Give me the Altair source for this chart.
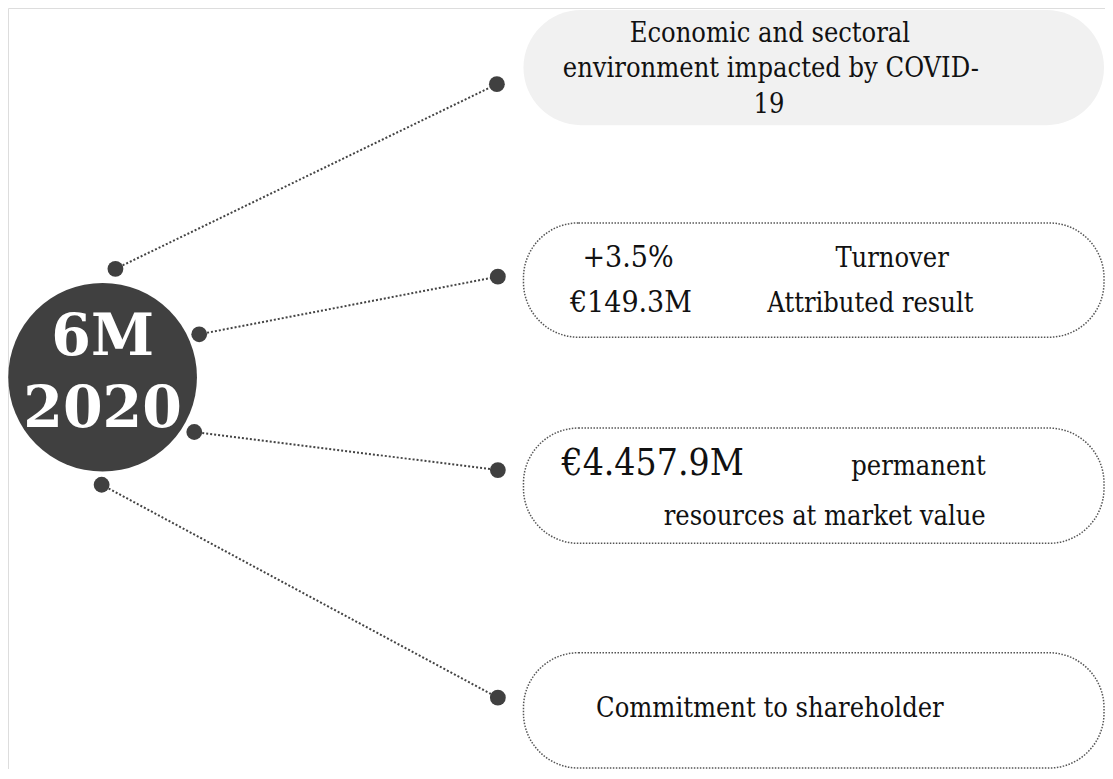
import altair as alt
import pandas as pd

# ---- content ----
center_lines = ["6M", "2020"]
box_texts = [
    "Economic and sectoral",
    "environment impacted by COVID-",
    "19",
    "Turnover",
    "Attributed result",
    "permanent",
    "resources at market value",
    "Commitment to shareholder",
]
value_texts = ["+3.5%", "€149.3M", "€4.457.9M"]

# ---- layout (reference pixel space, mapped into the plot area) ----
W, H = 1097, 761
xs = alt.Scale(domain=[0, 1113], range=[0, W], nice=False, zero=False)
ys = alt.Scale(domain=[0, 779], range=[0, H], nice=False, zero=False)

boxes = pd.DataFrame({
    "x": [523, 523, 523, 523], "x2": [1112, 1112, 1112, 1112],
    "y": [2, 220, 430, 660], "y2": [120, 337, 548, 778],
    "kind": ["fill", "dot", "dot", "dot"],
})
links = pd.DataFrame({
    "x": [109, 194, 189, 95], "y": [267, 334, 434, 488],
    "x2": [496, 497, 497, 497], "y2": [78, 275, 473, 706],
})
dots = pd.DataFrame({
    "x": [109, 194, 189, 95, 496, 497, 497, 497],
    "y": [267, 334, 434, 488, 78, 275, 473, 706],
})
hub = pd.DataFrame({"x": [96], "y": [378]})
hub_text = pd.DataFrame({"t": center_lines, "x": [96, 96], "y": [338, 412]})
body = pd.DataFrame({
    "t": box_texts,
    "x": [773, 774, 772, 897, 875, 992, 992, 773],
    "y": [27, 62, 99, 257, 303, 470, 521, 718],
    "al": ["center", "center", "center", "center", "center", "right", "right", "center"],
})
vals = pd.DataFrame({
    "t": value_texts, "x": [629, 632, 654], "y": [256, 302, 467],
    "s": [30, 30, 37],
})

def X(f="x"):
    return alt.X(f"{f}:Q", scale=xs, axis=None)

def Y(f="y"):
    return alt.Y(f"{f}:Q", scale=ys, axis=None)

box_fill = alt.Chart(boxes[boxes["kind"] == "fill"]).mark_rect(
    cornerRadius=58, fill="#f1f1f1"
).encode(x=X(), x2="x2:Q", y=Y(), y2="y2:Q")
box_dot = alt.Chart(boxes[boxes["kind"] == "dot"]).mark_rect(
    cornerRadius=55, fill="white", stroke="#555555", strokeWidth=1.5, strokeDash=[1.5, 1.5]
).encode(x=X(), x2="x2:Q", y=Y(), y2="y2:Q")
link = alt.Chart(links).mark_rule(
    stroke="#444444", strokeWidth=2, strokeDash=[2, 2]
).encode(x=X(), x2="x2:Q", y=Y(), y2="y2:Q")
dot = alt.Chart(dots).mark_circle(size=250, color="#404040", opacity=1).encode(x=X(), y=Y())
hubc = alt.Chart(hub).mark_circle(size=35600, color="#404040", opacity=1).encode(x=X(), y=Y())
hubt = alt.Chart(hub_text).mark_text(
    font="DejaVu Serif", fontWeight="bold", fontSize=57, color="white", baseline="middle"
).encode(x=X(), y=Y(), text="t:N")

body_c = alt.Chart(body[body["al"] == "center"]).mark_text(
    font="DejaVu Serif Condensed", fontSize=27, color="#111111", baseline="middle", align="center"
).encode(x=X(), y=Y(), text="t:N")
body_r = alt.Chart(body[body["al"] == "right"]).mark_text(
    font="DejaVu Serif Condensed", fontSize=27, color="#111111", baseline="middle", align="right"
).encode(x=X(), y=Y(), text="t:N")
val_t = alt.Chart(vals).mark_text(
    font="DejaVu Serif Condensed", color="#111111", baseline="middle", align="center"
).encode(x=X(), y=Y(), text="t:N", size=alt.Size("s:Q", scale=None, legend=None))

chart = alt.layer(
    box_fill, box_dot, link, dot, hubc, hubt, body_c, body_r, val_t
).properties(
    width=W, height=H, padding=0, autosize=alt.AutoSizeParams(type="none")
).configure_view(strokeWidth=0, stroke="transparent").configure(background="white")

chart.save("out.html", embed_options={"renderer": "svg", "actions": False})
